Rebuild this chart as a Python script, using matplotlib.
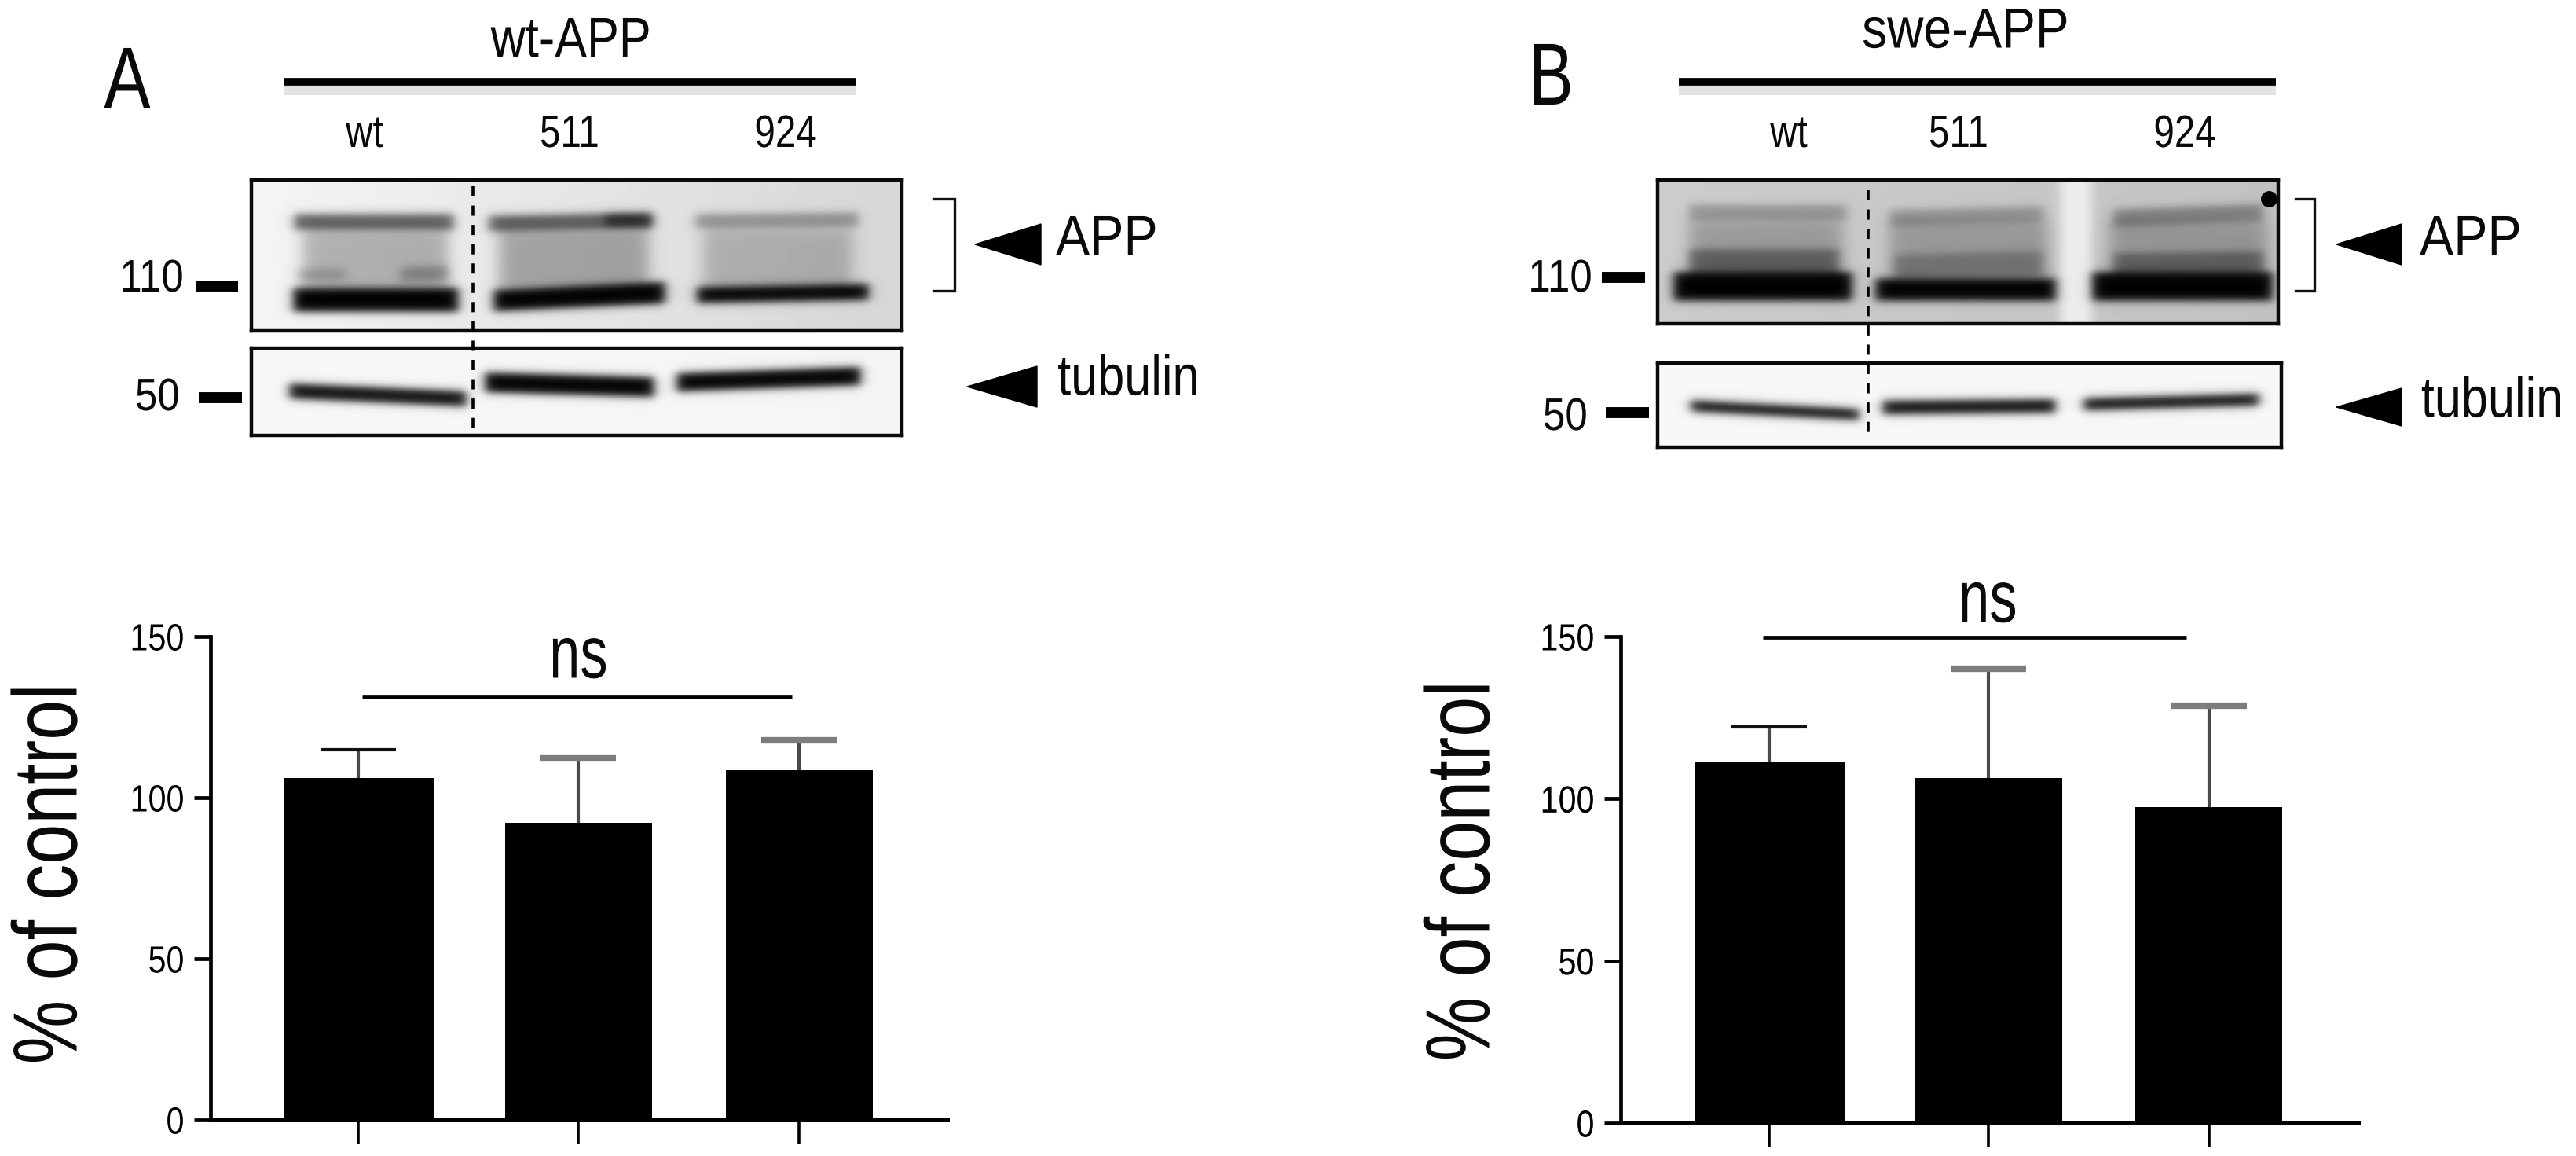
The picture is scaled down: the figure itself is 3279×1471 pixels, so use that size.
import matplotlib
matplotlib.use('Agg')
import matplotlib.pyplot as plt
import numpy as np
from matplotlib.patches import Polygon
from matplotlib.patheffects import AbstractPathEffect
from matplotlib.transforms import Affine2D

W, H = 3279, 1471

# DATA: bar charts
groups = ['wt', '511', '924']
yticks = [0, 50, 100, 150]
means_a = [106.2, 92.2, 108.5]
tops_a = [114.9, 112.1, 117.9]
means_b = [111.2, 106.5, 97.5]
tops_b = [122.1, 140.1, 128.6]
# the caps of the 2nd and 3rd bars look thick and grey in the picture
cap_colors = ['#111111', '#7d7d7d', '#7d7d7d']
cap_widths = [3.0, 6.0, 6.0]

# DATA: blot bands (x0, x1, y at left, y at right, thickness, darkness), in image pixels
a_app_bands = [
    (374, 577, 282, 282, 20, 0.6), (622, 830, 284, 280, 20, 0.6), (885, 1092, 281, 279, 18, 0.34),
    (770, 828, 280, 280, 14, 0.6),
    (378, 440, 349, 349, 14, 0.2), (510, 570, 349, 347, 18, 0.28),
    (373, 583, 381, 381, 30, 1.0), (628, 846, 382, 372, 27, 1.0), (887, 1105, 375, 371, 20, 1.0),
]
a_app_smear = [(385, 570, 0.27), (635, 825, 0.30), (895, 1085, 0.22)]
a_tub_bands = [
    (368, 593, 497, 507, 19, 0.95), (617, 832, 486, 492, 25, 1.0), (861, 1095, 486, 478, 23, 1.0),
]
b_app_bands = [
    (2150, 2350, 270, 270, 20, 0.26), (2405, 2600, 277, 272, 20, 0.26), (2690, 2880, 277, 270, 22, 0.34),
    (2150, 2340, 335, 335, 36, 0.4), (2410, 2600, 340, 335, 32, 0.26), (2690, 2880, 338, 335, 32, 0.38),
    (2130, 2357, 364, 364, 36, 1.0), (2387, 2616, 368, 368, 28, 1.0), (2663, 2892, 364, 364, 36, 1.0),
    (2622, 2662, 320, 320, 300, -0.2),
]
b_app_smear = [(2150, 2345, 0.24), (2405, 2605, 0.24), (2685, 2885, 0.24)]
b_tub_bands = [
    (2152, 2366, 516, 527, 14, 0.95), (2396, 2616, 518, 516, 17, 0.95), (2652, 2875, 514, 508, 15, 0.95),
]

plt.rcParams['font.family'] = 'Liberation Sans'


class Squeeze(AbstractPathEffect):
    # the labels in the figure are a condensed face, so narrow the glyphs
    def __init__(self, factor, side='center', axis='x'):
        super().__init__()
        self.factor, self.side, self.axis = factor, side, axis

    def draw_path(self, renderer, gc, tpath, affine, rgbFace=None):
        box = tpath.get_extents(affine)
        if self.axis == 'x':
            a = {'left': box.x0, 'center': (box.x0 + box.x1) / 2, 'right': box.x1}[self.side]
            t = Affine2D().translate(-a, 0).scale(self.factor, 1).translate(a, 0)
        else:
            a = (box.y0 + box.y1) / 2
            t = Affine2D().translate(0, -a).scale(1, self.factor).translate(0, a)
        renderer.draw_path(gc, tpath, affine + t, rgbFace)


def px(size):
    # font size from em size in pixels
    return size * 0.72


def axes_px(x0, y0, x1, y1):
    return fig.add_axes([x0 / W, 1 - y1 / H, (x1 - x0) / W, (y1 - y0) / H])


def ramp(v, a, b, e):
    return 0.5 * (np.tanh((v - a) / e) - np.tanh((v - b) / e))


def draw_blot(box, bg, bands, smear=None, smear_y=None):
    x0, y0, x1, y1 = box
    xx, yy = np.meshgrid(np.arange(x0, x1), np.arange(y0, y1))
    img = np.linspace(bg[0], bg[1], x1 - x0)[None, :].repeat(y1 - y0, axis=0)
    if smear:
        for a, b, d in smear:
            img = img * (1 - d * ramp(xx, a, b, 12) * ramp(yy, smear_y[0], smear_y[1], 10))
    for a, b, ya, yb, t, d in bands:
        yc = ya + (yb - ya) * (xx - a) / (b - a)
        img = img * (1 - d * ramp(xx, a, b, 8) * ramp(yy, yc - t / 2, yc + t / 2, 6))
    ax = axes_px(x0, y0, x1, y1)
    ax.imshow(img, cmap='gray', vmin=0, vmax=1, aspect='auto', interpolation='bilinear')
    ax.set_xticks([])
    ax.set_yticks([])
    for s in ax.spines.values():
        s.set_linewidth(3.2)
        s.set_color('#0a0a0a')


def draw_bars(x_axis, x_end, y0, y150, centers, widths, means, tops, ticklen):
    ax = axes_px(x_axis, y150, x_end, y0)
    ax.set_ylim(0, 150)
    ax.set_xlim(x_axis, x_end)
    ax.bar(centers, means, width=widths, color='black', linewidth=0)
    ax.vlines(centers, means, tops, color='#4a4a4a', lw=3.0)
    for x, t, c, w in zip(centers, tops, cap_colors, cap_widths):
        ax.plot([x], [t], marker='_', ms=69, mew=w, color=c, clip_on=False)
    ax.spines['top'].set_visible(False)
    ax.spines['right'].set_visible(False)
    ax.spines['left'].set_linewidth(3.4)
    ax.spines['bottom'].set_linewidth(3.6)
    ax.set_yticks(yticks)
    ax.set_yticklabels([str(v) for v in yticks], fontsize=px(48))
    for t in ax.get_yticklabels():
        t.set_path_effects([Squeeze(0.86, 'right')])
    ax.set_xticks(centers)
    ax.set_xticklabels([])
    ax.tick_params(axis='y', length=15, width=3.4, pad=9)
    ax.tick_params(axis='x', length=ticklen, width=2.6)
    ax.patch.set_alpha(0)


fig = plt.figure(figsize=(W / 100, H / 100), dpi=100, facecolor='white')

# blots
draw_blot((320, 229, 1148, 421), (0.96, 0.84), a_app_bands, a_app_smear, (290, 372))
draw_blot((320, 443, 1148, 554), (0.97, 0.96), a_tub_bands)
draw_blot((2110, 229, 2900, 412), (0.80, 0.76), b_app_bands, b_app_smear, (280, 360))
draw_blot((2110, 462, 2904, 569), (0.97, 0.97), b_tub_bands)

# bars
draw_bars(268, 1206, 1425, 810, [456, 736, 1017], [191, 187, 187], means_a, tops_a, 22)
draw_bars(2063, 3002, 1429, 810, [2252, 2531, 2812], [191, 187, 187], means_b, tops_b, 22)

# overlay in image pixels for labels, arrows and lines
ov = fig.add_axes([0, 0, 1, 1])
ov.set_xlim(0, W)
ov.set_ylim(H, 0)
ov.axis('off')
ov.patch.set_alpha(0)


def label(x, y, s, size, squeeze, ha='center', rotation=0):
    t = ov.text(x, y, s, fontsize=px(size), ha=ha, va='center', rotation=rotation, color='#0a0a0a')
    t.set_path_effects([Squeeze(squeeze, ha, 'y' if rotation else 'x')])


def hline(x0, x1, y, lw):
    ov.plot([x0, x1], [y, y], color='black', lw=lw, solid_capstyle='butt')


def arrow(tip, base, y, half):
    ov.add_patch(Polygon([[tip, y], [base, y - half], [base, y + half]], closed=True, color='black'))


def bracket(x0, x1, y0, y1):
    ov.plot([x0, x1, x1, x0], [y0, y0, y1, y1], color='#111111', lw=2.4, solid_joinstyle='miter')


# panel A
label(162, 109, 'A', 112, 0.8)
label(727, 54, 'wt-APP', 72, 0.85)
hline(361, 1090, 104, 7)
ov.fill_between([361, 1090], 108, 121, color='#e2e2e2', lw=0, zorder=0)
for x, s in zip([464, 725, 1000], groups):
    label(x, 172, s, 58, 0.82)
label(234, 356, '110', 58, 0.88, ha='right')
label(229, 507, '50', 58, 0.88, ha='right')
hline(250, 303, 364, 10)
hline(253, 308, 506, 10)
bracket(1188, 1215, 253, 370)
arrow(1241, 1325, 311, 26)
arrow(1231, 1320, 492, 26)
label(1344, 306, 'APP', 72, 0.9, ha='left')
label(1346, 484, 'tubulin', 72, 0.85, ha='left')
ov.plot([602, 602], [237, 551], color='black', lw=2.6, ls=(0, (3.6, 3.2)))
hline(461, 1008, 887, 3.4)
label(736, 838, 'ns', 94, 0.75)
label(67, 1112, '% of control', 116, 0.79, rotation=90)

# panel B
label(1974, 104, 'B', 112, 0.76)
label(2502, 42, 'swe-APP', 72, 0.89)
hline(2137, 2897, 104, 7)
ov.fill_between([2137, 2897], 108, 121, color='#e2e2e2', lw=0, zorder=0)
for x, s in zip([2277, 2493, 2781], groups):
    label(x, 172, s, 58, 0.82)
label(2027, 356, '110', 58, 0.88, ha='right')
label(2021, 532, '50', 58, 0.88, ha='right')
hline(2039, 2094, 353, 10)
hline(2044, 2099, 525, 10)
bracket(2922, 2946, 253, 370)
arrow(2974, 3057, 311, 26)
arrow(2974, 3057, 518, 24)
label(3080, 306, 'APP', 72, 0.9, ha='left')
label(3263, 512, 'tubulin', 72, 0.85, ha='right')
ov.plot([2378, 2378], [242, 561], color='black', lw=2.6, ls=(0, (3.6, 3.2)))
ov.plot([2888], [253], 'o', color='black', ms=14)
hline(2244, 2783, 811, 3.4)
label(2530, 767, 'ns', 94, 0.75)
label(1865, 1108, '% of control', 116, 0.79, rotation=90)

fig.savefig('out.png', dpi=100)
